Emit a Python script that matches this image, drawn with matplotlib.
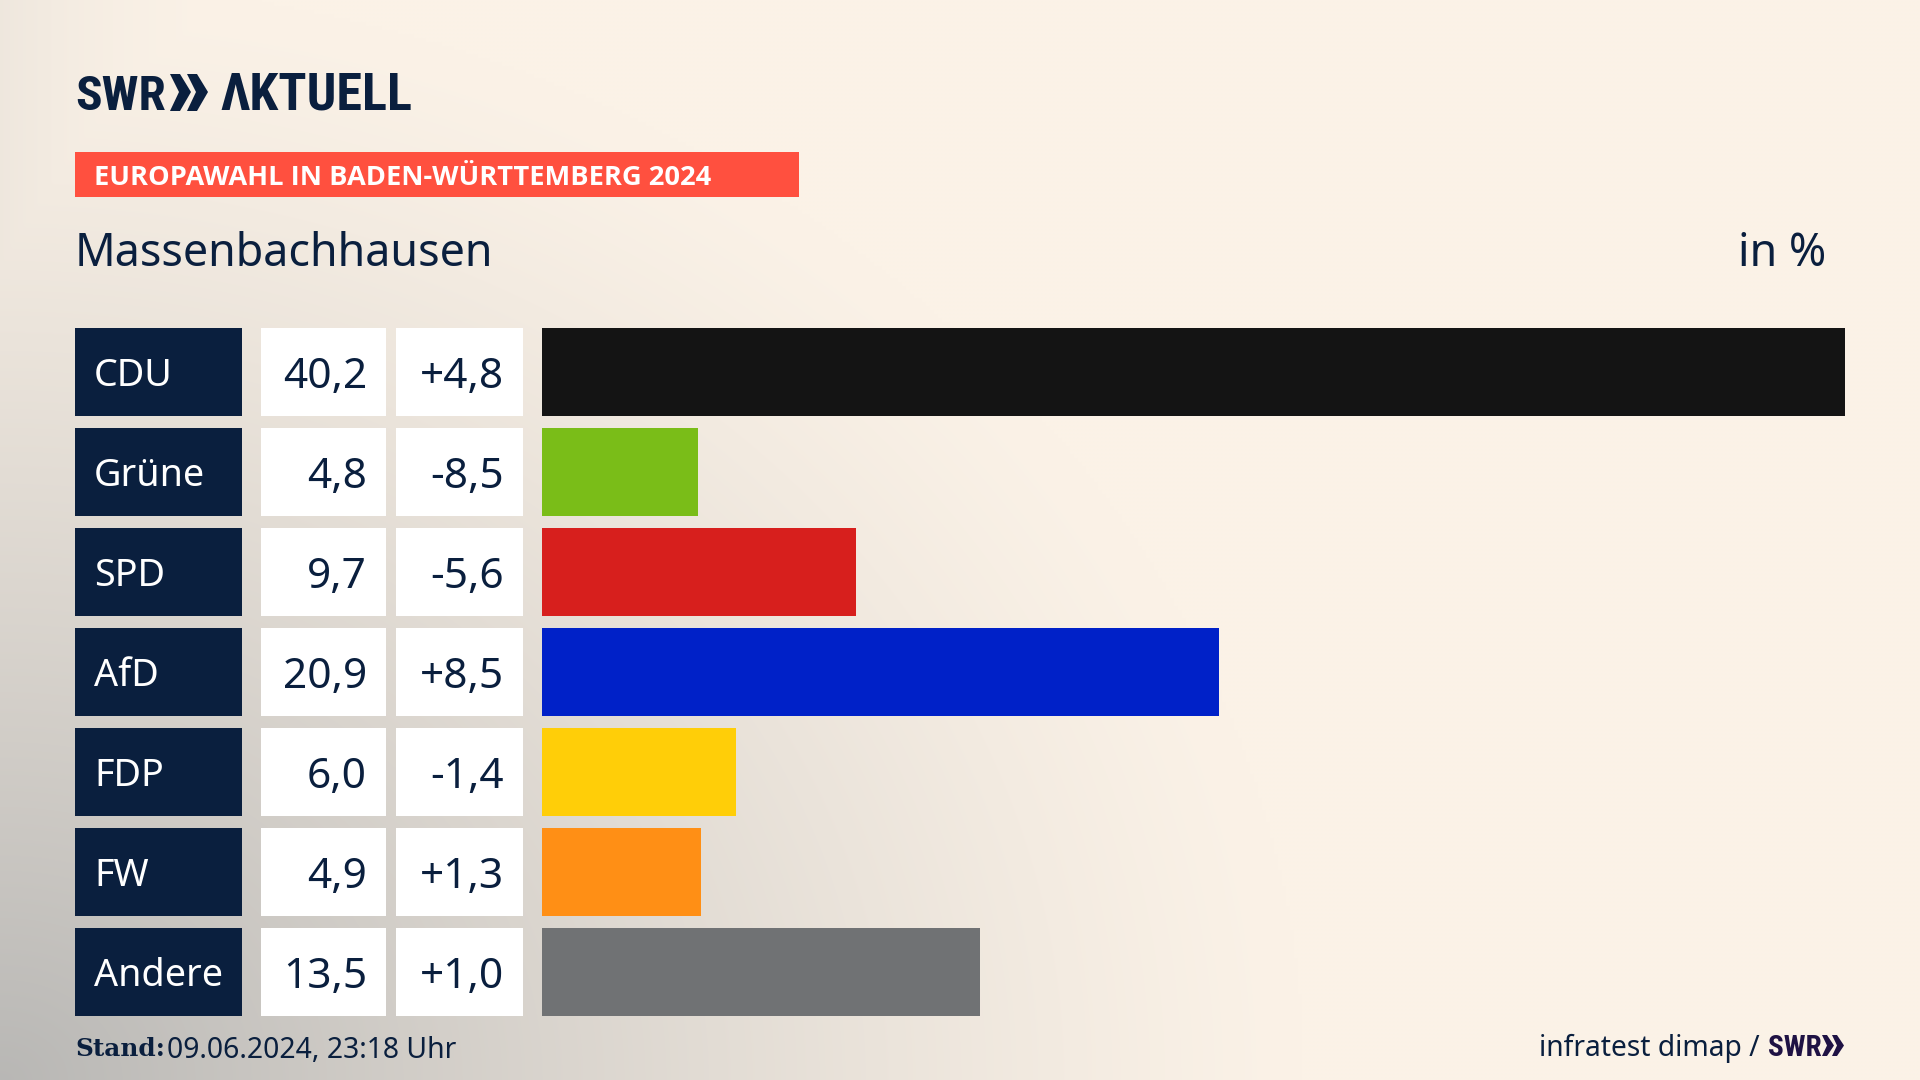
import numpy as np
import matplotlib
matplotlib.use('Agg')
import matplotlib.pyplot as plt
from matplotlib.patches import Rectangle, Polygon

parteien = ['CDU', 'Grüne', 'SPD', 'AfD', 'FDP', 'FW', 'Andere']
anteil = [40.2, 4.8, 9.7, 20.9, 6.0, 4.9, 13.5]
anteil_text = ['40,2', '4,8', '9,7', '20,9', '6,0', '4,9', '13,5']
diff_text = ['+4,8', '-8,5', '-5,6', '+8,5', '-1,4', '+1,3', '+1,0']
farben = ['#141414', '#7ABD18', '#D71F1D', '#0021C8', '#FFCE08', '#FF8F15', '#707274']

navy = '#0A1F3E'
font = 'Noto Sans'
narrow = 'Roboto Condensed'

W, H = 1920, 1080
fig = plt.figure(figsize=(W / 100, H / 100), dpi=100)

# hintergrund: creme, unten links grau
bg = fig.add_axes([0, 0, 1, 1])
xx, yy = np.meshgrid(np.arange(0, W, 4), np.arange(0, H, 4))
d1 = np.sqrt((xx / 1300.0) ** 2 + ((H - yy) / 1100.0) ** 2)
t = np.clip(1 - d1, 0, 1) ** 1.25 * 0.66
d2 = np.sqrt(((xx - 850) / 400.0) ** 2 + ((yy - 950) / 300.0) ** 2)
t = np.maximum(t, np.clip(1 - d2, 0, 1) * 0.10)
t = np.maximum(t, np.clip(1 - xx / 260.0, 0, 1) ** 2 * 0.12)
creme = np.array([251, 242, 231]) / 255.0
grau = np.array([150, 153, 155]) / 255.0
img = creme[None, None, :] * (1 - t[..., None]) + grau[None, None, :] * t[..., None]
bg.imshow(img, extent=[0, W, H, 0], aspect='auto', interpolation='bilinear')
bg.set_xlim(0, W)
bg.set_ylim(H, 0)
bg.axis('off')

# kopf
bg.text(75, 110, 'SWR', fontfamily=narrow, fontweight='bold', fontsize=35.5, color=navy, va='baseline')
bg.add_patch(Polygon([(170, 74), (180, 74), (191, 92), (180, 111), (170, 111), (179, 92)], color=navy, lw=0))
bg.add_patch(Polygon([(187, 74), (197, 74), (208, 92), (197, 111), (187, 111), (196, 92)], color=navy, lw=0))
bg.text(220, 110, 'ΛKTUELL', fontfamily=narrow, fontweight='bold', fontsize=37.5, color=navy, va='baseline')

bg.add_patch(Rectangle((75, 152), 724, 45, color='#FF503F', lw=0))
bg.text(94, 175, 'EUROPAWAHL IN BADEN-WÜRTTEMBERG 2024', fontfamily='Open Sans', fontweight='bold',
        fontsize=19.65, color='white', va='center_baseline')
bg.text(75, 248, 'Massenbachhausen', fontfamily=font, fontsize=32.3, color=navy, va='center_baseline')
bg.text(1826, 248, 'in %', fontfamily=font, fontsize=32.3, color=navy, ha='right', va='center_baseline')

# tabelle
for i, name in enumerate(parteien):
    y0 = 328 + 100 * i
    bg.add_patch(Rectangle((75, y0), 167, 88, color=navy, lw=0))
    bg.add_patch(Rectangle((261, y0), 125, 88, color='white', lw=0))
    bg.add_patch(Rectangle((396, y0), 127, 88, color='white', lw=0))
    bg.text(94, y0 + 44, name, fontfamily=font, fontsize=27.2, color='white', va='center_baseline')
    bg.text(367, y0 + 44, anteil_text[i], fontfamily=font, fontsize=30.5, color=navy, ha='right', va='center_baseline')
    bg.text(504, y0 + 44, diff_text[i], fontfamily=font, fontsize=30.5, color=navy, ha='right', va='center_baseline')

# balken
ax = fig.add_axes([542 / W, 1 - 1016 / H, (1845 - 542) / W, 688 / H])
ax.barh(range(len(parteien)), anteil, height=0.88, color=farben)
ax.set_xlim(0, 40.2)
ax.set_ylim(6.44, -0.44)
ax.axis('off')

# fuss
bg.text(75, 1047, 'Stand:', fontfamily='DejaVu Serif', fontweight='bold', fontsize=17.8, color=navy, va='center_baseline')
bg.text(167, 1047, '09.06.2024, 23:18 Uhr', fontfamily=font, fontsize=20.4, color=navy, va='center_baseline')
bg.text(1760, 1045, 'infratest dimap /', fontfamily=font, fontsize=20.3, color=navy, ha='right', va='center_baseline')
lila = '#1F1244'
bg.text(1768, 1056, 'SWR', fontfamily=narrow, fontweight='bold', fontsize=21, color=lila, va='baseline')
bg.add_patch(Polygon([(1822, 1035), (1827, 1035), (1834, 1045.5), (1827, 1056), (1822, 1056), (1827, 1045.5)], color=lila, lw=0))
bg.add_patch(Polygon([(1832, 1035), (1837, 1035), (1844, 1045.5), (1837, 1056), (1832, 1056), (1837, 1045.5)], color=lila, lw=0))

fig.savefig('out.png', dpi=100)
